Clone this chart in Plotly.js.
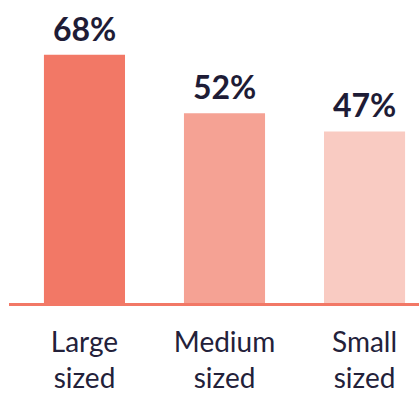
<!DOCTYPE html>
<html>
<head>
<meta charset="utf-8">
<script src="https://cdn.plot.ly/plotly-3.0.1.min.js"></script>
<style>html,body{margin:0;padding:0;background:#fff;}#chart{width:419px;height:396px;}</style>
</head>
<body>
<div id="chart"></div>
<script>
const categories = ["Large<br>sized", "Medium<br>sized", "Small<br>sized"];
const values = [68, 52, 47];
const valueLabels = ["68%", "52%", "47%"];
const barColors = ["#F27866", "#F5A294", "#F9CBC2"];

const trace = {
  type: "bar",
  x: categories,
  y: values,
  width: 0.579,
  marker: {color: barColors, line: {width: 0}},
  hoverinfo: "none"
};

const annotations = categories.map((c, i) => ({
  x: c, y: values[i], text: "<b>" + valueLabels[i] + "</b>",
  showarrow: false, yanchor: "bottom", xanchor: "center", yshift: 5,
  font: {family: "Lato, sans-serif", size: 32, color: "#1E1C36"}
}));

const layout = {
  width: 419, height: 396,
  margin: {l: 9, r: 0, t: 0, b: 93, pad: 0},
  paper_bgcolor: "#fff", plot_bgcolor: "#fff",
  showlegend: false,
  xaxis: {
    type: "category",
    range: [-0.539, 2.389],
    showline: true, linecolor: "#F27866", linewidth: 3,
    showgrid: false, zeroline: false, ticks: "",
    ticklabelstandoff: 12,
    tickfont: {family: "Lato, sans-serif", size: 28, color: "#23213A"},
    fixedrange: true
  },
  yaxis: {
    range: [0, 83],
    visible: false, showgrid: false, zeroline: false, fixedrange: true
  },
  annotations: annotations
};

Plotly.newPlot("chart", [trace], layout, {displayModeBar: false, staticPlot: true});
</script>
</body>
</html>
